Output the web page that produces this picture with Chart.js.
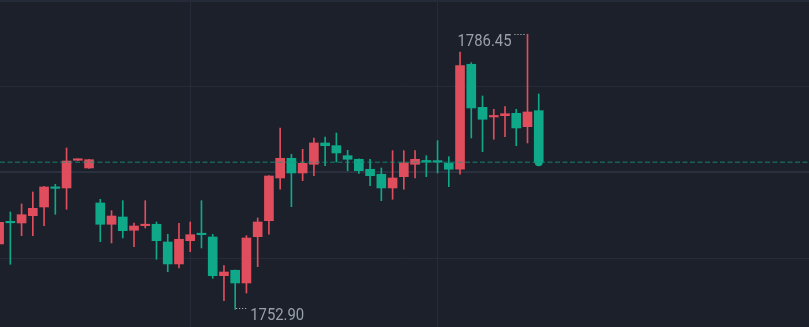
<!DOCTYPE html>
<html>
<head>
<meta charset="utf-8">
<script src="https://cdn.jsdelivr.net/npm/chart.js@4.4.0/dist/chart.umd.min.js"></script>
<style>
    html, body { margin: 0; padding: 0; background: #1b202b; overflow: hidden; }
    #wrap { width: 809px; height: 327px; }
</style>
</head>
<body>
<div id="wrap"><canvas id="graficoVelas" width="809" height="327"></canvas></div>
<script>
// posição de cada vela no eixo do tempo
const indices = [-1, 0, 1, 2, 3, 4, 5, 6, 7, 8, 9, 10, 11, 12, 13, 14, 15, 16, 17, 18, 19, 20, 21, 22, 23,
    24, 25, 26, 27, 28, 29, 30, 31, 32, 33, 34, 35, 36, 37, 38, 39, 40, 41, 42, 43, 44, 45, 46, 47];

const abertura = [1760.87, 1763.55, 1763.43, 1764.32, 1765.38, 1767.75, 1767.70, 1771.08, 1770.14, 1765.87,
    1763.27, 1764.16, 1762.54, 1763.10, 1763.27, 1761.11, 1758.43, 1761.27, 1762.10, 1761.72, 1757.00,
    1757.66, 1756.11, 1761.76, 1763.71, 1768.92, 1771.32, 1769.53, 1770.59, 1773.19, 1772.86, 1771.64,
    1771.20, 1769.98, 1769.37, 1767.70, 1769.08, 1770.59, 1770.99, 1770.90, 1770.71, 1769.98, 1782.79,
    1777.54, 1776.36, 1776.52, 1776.81, 1775.18, 1777.13];

const fechamento = [1763.51, 1763.45, 1764.44, 1765.22, 1767.82, 1767.65, 1770.99, 1771.20, 1771.15, 1763.27,
    1764.28, 1762.49, 1763.06, 1763.27, 1761.27, 1758.43, 1761.44, 1762.00, 1762.00, 1757.00, 1757.45,
    1756.11, 1761.60, 1763.55, 1769.16, 1771.32, 1769.53, 1770.71, 1773.19, 1772.86, 1771.97, 1771.20,
    1769.81, 1769.20, 1767.70, 1768.92, 1770.75, 1771.20, 1770.87, 1770.85, 1769.98, 1782.62, 1777.46,
    1776.08, 1776.52, 1776.76, 1775.02, 1776.97, 1770.85];

const maxima = [1763.80, 1764.77, 1765.75, 1767.21, 1767.90, 1768.15, 1772.58, 1771.25, 1771.20, 1766.32,
    1764.93, 1766.15, 1763.43, 1766.15, 1763.55, 1762.05, 1763.39, 1763.55, 1766.15, 1762.05, 1758.22,
    1757.70, 1761.88, 1764.04, 1769.20, 1775.02, 1771.81, 1772.42, 1773.80, 1773.92, 1774.41, 1772.30,
    1771.25, 1771.20, 1770.14, 1772.25, 1772.25, 1772.25, 1771.64, 1773.47, 1771.52, 1784.29, 1782.99,
    1778.92, 1777.30, 1777.62, 1777.30, 1786.45, 1779.17];

const minima = [1760.62, 1758.39, 1761.88, 1761.88, 1763.10, 1764.49, 1765.10, 1771.05, 1770.10, 1761.15,
    1760.99, 1761.60, 1760.54, 1762.82, 1759.00, 1757.49, 1757.94, 1759.93, 1760.38, 1756.68, 1753.95,
    1752.90, 1754.89, 1758.10, 1762.05, 1767.54, 1765.42, 1768.59, 1769.20, 1770.42, 1770.87, 1769.81,
    1769.49, 1767.98, 1766.15, 1766.32, 1767.54, 1768.92, 1769.08, 1769.53, 1767.86, 1769.37, 1773.80,
    1772.13, 1773.64, 1773.96, 1772.86, 1773.19, 1770.85];

const ultimoPreco = 1770.85;

// linhas da grade (preço e tempo)
const gradeY = [1759.12, 1769.59, 1780.02, 1790.45];
const gradeX = [16, 38];

// faixa visível
const faixaX = [-0.92, 71.04];
const faixaY = [1750.74, 1790.63];

const COR_ALTA = '#e04d5c';
const COR_BAIXA = '#0fa98a';

function corVela(i) {
    return fechamento[i] >= abertura[i] ? COR_ALTA : COR_BAIXA;
}

const fundo = {
    id: 'fundo',
    beforeDraw(chart) {
        const { ctx, width, height } = chart;
        ctx.save();
        ctx.fillStyle = '#1b202b';
        ctx.fillRect(0, 0, width, height);
        ctx.restore();
    }
};

// rótulos de máxima e mínima com a linha pontilhada
const rotulosExtremos = {
    id: 'rotulosExtremos',
    afterDatasetsDraw(chart) {
        const { ctx, scales: { x, y } } = chart;
        const topo = Math.max(...maxima);
        const fundoPreco = Math.min(...minima);
        const iMax = maxima.indexOf(topo);
        const iMin = minima.indexOf(fundoPreco);

        ctx.save();
        ctx.font = '16px Roboto';
        ctx.fillStyle = '#9aa0ab';
        ctx.strokeStyle = '#c9ccd3';
        ctx.lineWidth = 1;
        ctx.setLineDash([1, 2]);

        let px = x.getPixelForValue(indices[iMax]);
        let py = Math.round(y.getPixelForValue(topo)) + 0.5;
        ctx.beginPath();
        ctx.moveTo(px - 13, py);
        ctx.lineTo(px - 1, py);
        ctx.stroke();
        ctx.textAlign = 'right';
        ctx.fillText(topo.toFixed(2), px - 16, py + 11.5, 54);

        px = x.getPixelForValue(indices[iMin]);
        py = Math.round(y.getPixelForValue(fundoPreco)) - 0.5;
        ctx.beginPath();
        ctx.moveTo(px + 1, py);
        ctx.lineTo(px + 13, py);
        ctx.stroke();
        ctx.textAlign = 'left';
        ctx.fillText(fundoPreco.toFixed(2), px + 15, py + 11.5, 54);
        ctx.restore();
    }
};

function renderizarGrafico() {
    const ctx = document.getElementById('graficoVelas');
    const cores = indices.map((_, i) => corVela(i));

    new Chart(ctx, {
        type: 'bar',
        data: {
            datasets: [
                {
                    // preço atual
                    type: 'line',
                    data: [{ x: faixaX[0], y: ultimoPreco }, { x: faixaX[1], y: ultimoPreco }],
                    borderColor: 'rgba(20, 150, 125, 0.55)',
                    borderWidth: 1.5,
                    borderDash: [5, 2.5],
                    pointRadius: 0,
                    order: 0
                },
                {
                    type: 'scatter',
                    data: [{ x: indices[indices.length - 1], y: ultimoPreco }],
                    backgroundColor: COR_BAIXA,
                    borderWidth: 0,
                    pointRadius: 4,
                    order: 0
                },
                {
                    // corpos
                    data: indices.map((k, i) => ({ x: k, y: [abertura[i], fechamento[i]] })),
                    backgroundColor: cores,
                    barThickness: 9,
                    minBarLength: 1.5,
                    grouped: false,
                    order: 1
                },
                {
                    // pavios
                    data: indices.map((k, i) => ({ x: k, y: [minima[i], maxima[i]] })),
                    backgroundColor: cores,
                    barThickness: 1,
                    grouped: false,
                    order: 2
                }
            ]
        },
        options: {
            responsive: false,
            animation: false,
            events: [],
            layout: { padding: 0, autoPadding: false },
            plugins: {
                legend: { display: false },
                tooltip: { enabled: false }
            },
            scales: {
                x: {
                    type: 'linear',
                    min: faixaX[0],
                    max: faixaX[1],
                    offset: false,
                    afterBuildTicks: s => { s.ticks = gradeX.map(v => ({ value: v })); },
                    afterFit: s => { s.height = 0; },
                    ticks: { display: false },
                    border: { display: false },
                    grid: { color: '#252b38', drawTicks: false, offset: false }
                },
                y: {
                    min: faixaY[0],
                    max: faixaY[1],
                    afterBuildTicks: s => { s.ticks = gradeY.map(v => ({ value: v })); },
                    afterFit: s => { s.width = 0; },
                    ticks: { display: false },
                    border: { display: false },
                    grid: {
                        color: c => c.index === 1 ? '#2a303e' : '#252b38',
                        lineWidth: c => c.index === 1 || c.index === 3 ? 2 : 1,
                        drawTicks: false
                    }
                }
            }
        },
        plugins: [fundo, rotulosExtremos]
    });
}

renderizarGrafico();
</script>
</body>
</html>
